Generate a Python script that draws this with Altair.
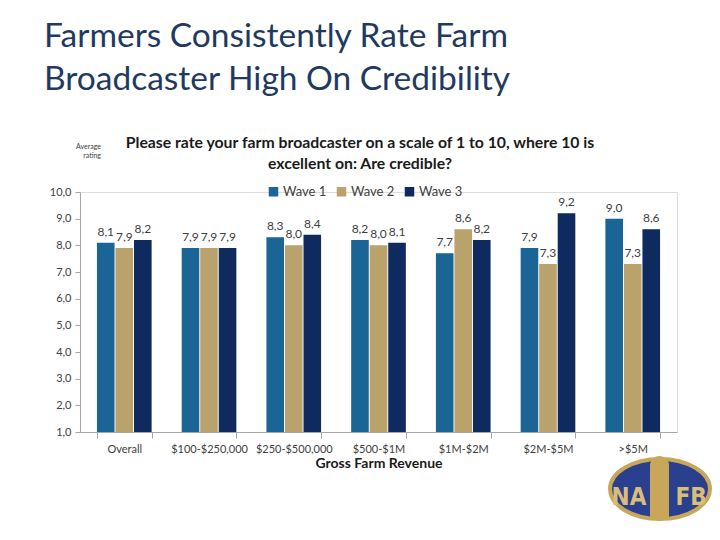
import altair as alt
import pandas as pd

categories = ["Overall", "$100-$250,000", "$250-$500,000", "$500-$1M", "$1M-$2M", "$2M-$5M", ">$5M"]
waves = ["Wave 1", "Wave 2", "Wave 3"]
wave1 = [8.1, 7.9, 8.3, 8.2, 7.7, 7.9, 9.0]
wave2 = [7.9, 7.9, 8.0, 8.0, 8.6, 7.3, 7.3]
wave3 = [8.2, 7.9, 8.4, 8.1, 8.2, 9.2, 8.6]
colors = ["#1A6596", "#B9A26C", "#0E2A5E"]
y_ticks = [1, 2, 3, 4, 5, 6, 7, 8, 9, 10]

title_lines = ["Farmers Consistently Rate Farm", "Broadcaster High On Credibility"]
subtitle_lines = ["Please rate your farm broadcaster on a scale of 1 to 10, where 10 is",
                  "excellent on: Are credible?"]
side_lines = ["Average", "rating"]

rows = []
for i, c in enumerate(categories):
    for w, vals in zip(waves, [wave1, wave2, wave3]):
        rows.append({"Category": c, "Wave": w, "Value": vals[i]})
df = pd.DataFrame(rows)

FONT = "Lato"
W, H = 597, 240

base = alt.Chart(df).transform_calculate(
    label="replace(format(datum.Value, '.1f'), '.', ',')"
).encode(
    x=alt.X("Category:N", sort=categories,
            scale=alt.Scale(paddingInner=0.355, paddingOuter=0.2),
            axis=alt.Axis(title="Gross Farm Revenue", labelAngle=0, tickBand="extent",
                          labelFontSize=11, labelColor="#404040", labelFont=FONT,
                          titleFont=FONT, titleFontSize=14, titleFontWeight="bold",
                          titleColor="#1a1a1a", titlePadding=2, labelPadding=5,
                          tickSize=6, domainColor="#A6A6A6", tickColor="#A6A6A6")),
    xOffset=alt.XOffset("Wave:N", sort=waves, scale=alt.Scale(paddingInner=0.05)),
    y=alt.Y("Value:Q", scale=alt.Scale(domain=[1, 10], zero=False, nice=False),
            axis=alt.Axis(title=None, values=y_ticks, labelOverlap=False,
                          labelFlush=False, labelBound=False,
                          labelExpr="replace(format(datum.value, '.1f'), '.', ',')",
                          labelFontSize=11, labelColor="#404040", labelFont=FONT,
                          grid=False, tickSize=5, domainColor="#A6A6A6",
                          tickColor="#A6A6A6", labelPadding=4)),
)

bars = base.mark_bar().encode(
    y2=alt.datum(1),
    color=alt.Color("Wave:N", sort=waves, scale=alt.Scale(domain=waves, range=colors),
                    legend=alt.Legend(orient="none", legendX=187, legendY=-7,
                                      direction="horizontal", title=None,
                                      symbolType="square", symbolSize=90,
                                      symbolStrokeWidth=0, labelFont=FONT,
                                      labelFontSize=13, labelColor="#404040",
                                      columnPadding=8, symbolOffset=0,
                                      labelOffset=3)),
)

labels = base.mark_text(baseline="bottom", dy=-4, fontSize=12, font=FONT,
                        color="#404040").encode(
    text="label:N",
)

tdf = pd.DataFrame({"t": title_lines, "y": [-145, -102]})
title = alt.Chart(tdf).mark_text(align="left", baseline="alphabetic", fontSize=33.5,
                                 font=FONT, color="#1F3A60").encode(
    x=alt.value(-36), y=alt.Y("y:Q", scale=None), text="t:N")

sdf = pd.DataFrame({"t": subtitle_lines, "y": [-44, -23]})
subtitle = alt.Chart(sdf).mark_text(align="center", baseline="alphabetic", fontSize=15.8,
                                    font=FONT, fontWeight="bold", color="#1a1a1a").encode(
    x=alt.value(280), y=alt.Y("y:Q", scale=None), text="t:N")

adf = pd.DataFrame({"t": side_lines, "y": [-43, -34]})
side = alt.Chart(adf).mark_text(align="right", baseline="alphabetic", fontSize=7,
                                font=FONT, color="#404040").encode(
    x=alt.value(21), y=alt.Y("y:Q", scale=None), text="t:N")

logo_df = pd.DataFrame({"t": ["NAFB"]})
ellipse = ("M -1 0 C -1 -0.331 -0.552 -0.6 0 -0.6 C 0.552 -0.6 1 -0.331 1 0 "
           "C 1 0.331 0.552 0.6 0 0.6 C -0.552 0.6 -1 0.331 -1 0 Z")
logo = alt.Chart(logo_df).mark_point(shape=ellipse, filled=True, fill="#2B3F8F",
                                     stroke="#C9A75A", strokeWidth=4, opacity=1).encode(
    x=alt.value(580), y=alt.value(297), size=alt.value(10000))
logo_na = alt.Chart(logo_df).mark_text(fontSize=24, font="DejaVu Sans Condensed",
                                       fontWeight="bold", color="#D8BE7A").encode(
    x=alt.value(549), y=alt.value(306), text=alt.value("NA"))
logo_fb = alt.Chart(logo_df).mark_text(fontSize=24, font="DejaVu Sans Condensed",
                                       fontWeight="bold", color="#D8BE7A").encode(
    x=alt.value(611), y=alt.value(306), text=alt.value("FB"))
logo_mic = alt.Chart(logo_df).mark_bar(color="#C9A75A", cornerRadiusTopLeft=10,
                                       cornerRadiusTopRight=10).encode(
    x=alt.value(570), x2=alt.value(589), y=alt.value(264), y2=alt.value(326))

chart = alt.layer(bars, labels, title, subtitle, side, logo, logo_mic,
                  logo_na, logo_fb).properties(
    width=W, height=H,
    autosize=alt.AutoSizeParams(type="none"),
    padding={"left": 72, "top": 184, "right": 35, "bottom": 100},
).configure_view(stroke=None).configure(font=FONT)

chart.save("out.html", embed_options={"renderer": "svg", "actions": False})
